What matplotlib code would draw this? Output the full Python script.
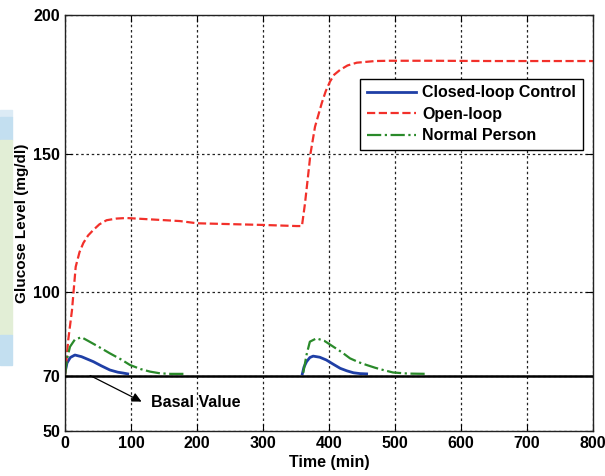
import matplotlib
matplotlib.use("Agg")
import matplotlib.pyplot as plt
from matplotlib.patches import Rectangle

plt.rcParams['font.family'] = ['Liberation Sans', 'DejaVu Sans']
plt.rcParams['font.weight'] = 'bold'

# Open-loop response (red dashed)
t_open = [0, 5, 10.6, 16.2, 22, 27.8, 35, 43, 52, 63, 78, 93, 130, 174, 200,
          250, 300, 351, 359, 363.6, 368.7, 372, 378.8, 389, 395, 401.5, 408,
          416.7, 428, 442, 470, 492, 550, 650, 800]
g_open = [70, 83, 93.6, 109.2, 114.5, 117.8, 120.5, 122.5, 124.5, 126, 126.6,
          126.8, 126.3, 125.7, 124.9, 124.6, 124.3, 123.9, 123.9, 132, 142.9,
          150.1, 159.7, 168.2, 172.5, 176, 178.5, 180.2, 181.8, 182.8, 183.4,
          183.5, 183.5, 183.4, 183.4]

# Closed-loop control (blue solid), two meal events
t_closed1 = [0, 3, 8, 15, 25, 43, 55, 68, 80, 88, 95]
g_closed1 = [71, 74.5, 76.5, 77.4, 76.8, 75, 73.5, 72, 71.2, 70.9, 70.6]
t_closed2 = [359.6, 362, 366, 371, 376, 386, 396, 407, 417, 427, 437, 447, 457]
g_closed2 = [70.6, 73, 75, 76.5, 77, 76.6, 75.6, 74, 72.6, 71.7, 71, 70.7, 70.6]

# Normal person (green dash-dot)
t_normal1 = [0, 3, 7.6, 15, 25, 35, 50, 68, 85, 98.5, 115, 129, 144, 160, 180]
g_normal1 = [70, 76, 80.4, 83, 83.8, 82.5, 80.5, 78, 75.8, 73.8, 72.3, 71.4,
             70.8, 70.6, 70.6]
t_normal2 = [361, 366, 371, 381, 393, 406.5, 420, 431.8, 445, 457, 470, 482,
             497, 520, 550]
g_normal2 = [71, 77.5, 82.2, 83.4, 82.5, 80.4, 78.3, 76.2, 74.8, 73.8, 72.8,
             72, 71.1, 70.7, 70.6]

basal = 70
xticks = [0, 100, 200, 300, 400, 500, 600, 700, 800]
yticks = [50, 70, 100, 150, 200]

fig = plt.figure(figsize=(6.05, 4.76), dpi=100)
ax = fig.add_axes([65 / 605, 1 - 431 / 476, 528 / 605, 416 / 476])

# leftover background strip on the left edge
W, H = 605, 476
for y0, y1, c in [(110, 117, '#dcebf5'), (117, 140, '#c3dff0'),
                  (140, 335, '#e2eed6'), (335, 365, '#c3dff0')]:
    fig.patches.append(Rectangle((0, 1 - y1 / H), 12 / W, (y1 - y0) / H,
                                 transform=fig.transFigure, color=c, zorder=0))

blue = '#1f3fa6'
red = '#f2302a'
green = '#2a8a2a'

l1, = ax.plot(t_closed1, g_closed1, color=blue, lw=2, label='Closed-loop Control')
ax.plot(t_closed2, g_closed2, color=blue, lw=2)
l2, = ax.plot(t_open, g_open, color=red, lw=1.6, ls='--', label='Open-loop')
l3, = ax.plot(t_normal1, g_normal1, color=green, lw=1.6, ls='-.', label='Normal Person')
ax.plot(t_normal2, g_normal2, color=green, lw=1.6, ls='-.')
ax.plot([0, 800], [basal, basal], color='black', lw=1.8, zorder=4)

# arrow pointing from the basal line to its label
ax.annotate('', xy=(116, 60.6), xytext=(38, 70),
            arrowprops=dict(arrowstyle='-|>', color='black', lw=0.9,
                            mutation_scale=14, shrinkA=0, shrinkB=0))
ax.text(131, 60.3, 'Basal Value', fontsize=11.5, va='center', ha='left')

ax.set_xlim(0, 800)
ax.set_ylim(50, 200)
ax.set_xticks(xticks)
ax.set_yticks(yticks)
ax.tick_params(direction='in', top=True, right=True, length=5,
               labelsize=11.5, width=0.8)
ax.grid(True, color='#222222', ls=(0, (2, 2.2)), lw=0.9)
for s in ax.spines.values():
    s.set_color('#222222')
    s.set_linewidth(1.0)

ax.set_xlabel('Time (min)', fontsize=11.5, fontweight='bold', labelpad=3)
ax.set_ylabel('Glucose Level (mg/dl)', fontsize=11, fontweight='bold', labelpad=3)

leg = ax.legend(handles=[l1, l2, l3], loc='upper left',
                bbox_to_anchor=(0.559, 0.846), borderaxespad=0,
                fontsize=11.5, fancybox=False, edgecolor='black',
                framealpha=1, handlelength=3.1, handletextpad=0.4,
                labelspacing=0.4, borderpad=0.4)
leg.get_frame().set_linewidth(1.0)

fig.savefig('out.png', dpi=100)
